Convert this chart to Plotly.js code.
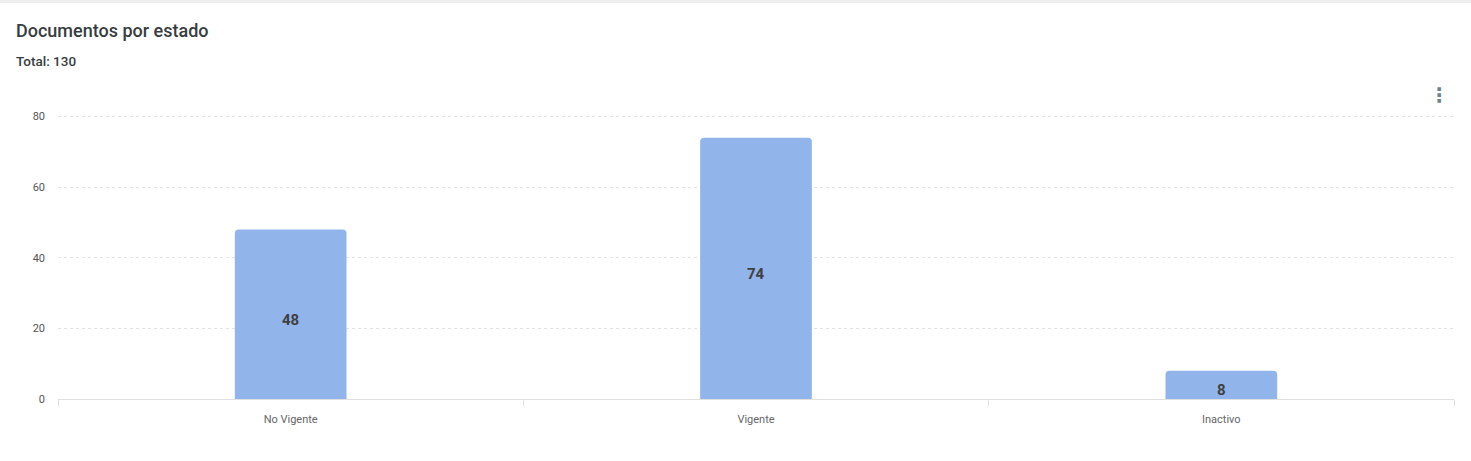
<!DOCTYPE html>
<html>
<head>
<meta charset="utf-8">
<script src="https://cdn.plot.ly/plotly-3.0.1.min.js"></script>
<style>
  html, body { margin: 0; padding: 0; background: #ffffff; }
  #wrap { width: 1471px; height: 461px; position: relative; border-top: 3px solid #eeeeee; box-sizing: border-box; }
  #chart { width: 1471px; height: 458px; }
</style>
</head>
<body>
<div id="wrap"><div id="chart"></div></div>
<script>
const categories = ["No Vigente", "Vigente", "Inactivo"];
const counts = [48, 74, 8];
const yTicks = [0, 20, 40, 60, 80];
const chartTitle = "Documentos por estado";
const subtitle = "Total: 130";

const trace = {
  type: "bar",
  x: categories,
  y: counts,
  marker: { color: "#91b4eb", cornerradius: 4 },
  width: 0.24,
  hoverinfo: "x+y"
};

const labelFont = { family: "Roboto, Arial, sans-serif", size: 15, color: "#404040", weight: 700 };
const barLabels = categories.map((c, i) => ({
  xref: "x", yref: "y", x: c, y: counts[i] / 2, yshift: -5.5,
  text: String(counts[i]), showarrow: false, font: labelFont,
  xanchor: "center", yanchor: "middle"
}));

const layout = {
  width: 1471,
  height: 458,
  margin: { l: 58, r: 17, t: 110, b: 62, pad: 0 },
  paper_bgcolor: "#ffffff",
  plot_bgcolor: "#ffffff",
  showlegend: false,
  font: { family: "Roboto, Arial, sans-serif", color: "#555555" },
  xaxis: {
    type: "category",
    showgrid: false,
    showline: true,
    linecolor: "#e0e0e0",
    linewidth: 1,
    ticks: "outside",
    tickson: "boundaries",
    ticklen: 6,
    tickcolor: "#e0e0e0",
    tickfont: { size: 11, color: "#666666" },
    ticklabelstandoff: 10,
    zeroline: false,
    fixedrange: true
  },
  yaxis: {
    range: [0, 81],
    tickvals: yTicks,
    ticktext: yTicks.map(String),
    showgrid: true,
    gridcolor: "#e3e3e3",
    griddash: "3px,3px",
    zeroline: false,
    showline: false,
    ticks: "",
    tickfont: { size: 11, color: "#555555" },
    ticklabelstandoff: 12,
    fixedrange: true
  },
  annotations: [
    { xref: "paper", yref: "paper", x: (14 - 58) / 1396, y: 1 + (110 - 27) / 286, xanchor: "left", yanchor: "middle",
      text: chartTitle, showarrow: false, font: { family: "Roboto, Arial, sans-serif", size: 18, color: "#373d3f", weight: 500 } },
    { xref: "paper", yref: "paper", x: (14 - 58) / 1396, y: 1 + (110 - 58) / 286, xanchor: "left", yanchor: "middle",
      text: subtitle, showarrow: false, font: { family: "Roboto, Arial, sans-serif", size: 13.5, color: "#373d3f", weight: 500 } },
    { xref: "paper", yref: "paper", x: 1 - 15 / 1396, y: 1 + (110 - 92) / 286, xanchor: "center", yanchor: "middle",
      text: "⋮", showarrow: false, font: { family: "DejaVu Sans, sans-serif", size: 20, color: "#6e8192", weight: 700 } }
  ].concat(barLabels)
};

Plotly.newPlot("chart", [trace], layout, { displayModeBar: false, responsive: false });
</script>
</body>
</html>
